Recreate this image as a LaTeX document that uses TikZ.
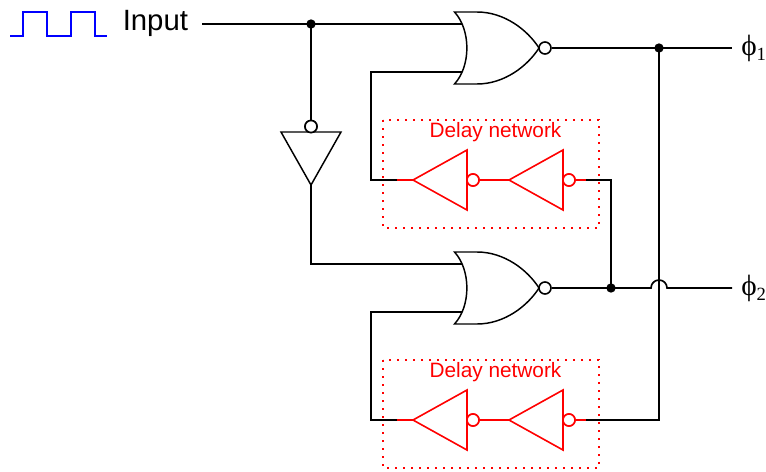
\documentclass[tikz,border=0pt]{standalone}
\usepackage{fontspec}
\setmainfont{Liberation Sans}
\newfontfamily\phifont{Liberation Serif}
\tikzset{
  x=0.75pt,y=-0.75pt,
  wire/.style={draw=black,line width=1.25pt,line join=miter},
  redwire/.style={draw=red,line width=1.2pt,line join=miter},
  junction/.style={circle,fill=black,draw=none,minimum size=7pt,inner sep=0pt},
  bubble/.style={circle,draw=#1,fill=white,line width=1.2pt,minimum size=9pt,inner sep=0pt},
  delaybox/.style={draw=red,line width=1.2pt,dash pattern=on 1.2pt off 4.8pt},
  lab/.style={inner sep=0pt},
  nor/.pic={
    \draw[wire,line width=1.1pt] (0,-36) -- (22.5,-36) .. controls (50,-36) and (73,-18) .. (84.5,0)
      .. controls (73,18) and (50,36) .. (22.5,36) -- (0,36)
      .. controls (16.5,18) and (16.5,-18) .. (0,-36) -- cycle;
    \node[bubble=black] (-out) at (90.5,0) {};
  },
  inv/.pic={
    \draw[redwire] (0,0) -- (54,-30) -- (54,30) -- cycle;
    \coordinate (-in) at (0,0);
    \node[bubble=red] (-out) at (60,0) {};
  },
}
\begin{document}
\begin{tikzpicture}
\useasboundingbox (0,0) rectangle (766,471);

% waveform
\draw[draw=blue,line width=1.2pt] (10,36) -- (23,36) -- (23,12) -- (47,12) -- (47,36) -- (71,36) -- (71,12) -- (95,12) -- (95,36) -- (107,36);
\node[lab,anchor=base west,font=\fontsize{22pt}{24pt}\selectfont] (input) at (122.5,30) {Input};

% delay boxes
\draw[delaybox] (383,120) rectangle (599,228);
\draw[delaybox] (383,360) rectangle (599,468);
\node[lab,text=red,font=\fontsize{15.6pt}{18pt}\selectfont] (d1) at (495.5,132.5) {Delay network};
\node[lab,text=red,font=\fontsize{15.6pt}{18pt}\selectfont] (d2) at (495.5,372.5) {Delay network};

% free coordinates
\coordinate (instart) at (202,24);
\coordinate (phi1end) at (732,48);
\coordinate (phi2end) at (732,288);
\coordinate (j1) at (311,24);
\coordinate (j2) at (659,48);
\coordinate (j3) at (611,288);
\coordinate (c1) at (371,72);
\coordinate (c2) at (371,180);
\coordinate (c3) at (371,312);
\coordinate (c4) at (371,420);
\coordinate (c5) at (311,264);
\coordinate (c6) at (611,180);
\coordinate (c7) at (659,420);
\coordinate (e1) at (397,180);
\coordinate (e2) at (586,180);
\coordinate (e3) at (397,420);
\coordinate (e4) at (586,420);

% wires (below gates)
\node[bubble=black] (ib) at (311,126.5) {};
\draw[wire] (j1) -- (ib.north);
\draw[wire] (instart) -- (j1) -- (462,24);
\draw[wire] (462,72) -- (c1) -- (c2) -- (e1);
\draw[wire] (311,185) -- (c5) -- (462,264);
\draw[wire] (462,312) -- (c3) -- (c4) -- (e3);
\draw[wire] (e2) -- (c6) -- (j3);
\draw[wire] (e4) -- (c7) -- (j2);

% gates
\pic (g1) at (454.5,48) {nor};
\pic (g2) at (454.5,288) {nor};
\draw[wire] (g1-out.east) -- (j2) -- (phi1end);
\draw[wire] (g2-out.east) -- (j3) -- (651,288) arc[start angle=180,end angle=360,radius=8] -- (phi2end);

% input inverter
\draw[wire,line width=1.1pt] (281,132) -- (341,132) -- (311,185) -- cycle;
\node[bubble=black] at (ib) {};

% delay inverters
\pic (i1) at (413,180) {inv};
\pic (i2) at (509,180) {inv};
\pic (i3) at (413,420) {inv};
\pic (i4) at (509,420) {inv};
\draw[redwire] (e1) -- (i1-in);
\draw[redwire] (i1-out) -- (i2-in);
\draw[redwire] (i2-out) -- (e2);
\draw[redwire] (e3) -- (i3-in);
\draw[redwire] (i3-out) -- (i4-in);
\draw[redwire] (i4-out) -- (e4);
\node[bubble=red] at (i1-out) {};
\node[bubble=red] at (i2-out) {};
\node[bubble=red] at (i3-out) {};
\node[bubble=red] at (i4-out) {};

% junctions
\node[junction] at (j1) {};
\node[junction] at (j2) {};
\node[junction] at (j3) {};

% output labels
\node[lab,anchor=base west,font=\phifont\fontsize{22pt}{24pt}\selectfont] (p1) at (741,55) {ϕ\raisebox{-4pt}{\fontsize{14pt}{15pt}\selectfont 1}};
\node[lab,anchor=base west,font=\phifont\fontsize{22pt}{24pt}\selectfont] (p2) at (741,295) {ϕ\raisebox{-4pt}{\fontsize{14pt}{15pt}\selectfont 2}};
\end{tikzpicture}
\end{document}
